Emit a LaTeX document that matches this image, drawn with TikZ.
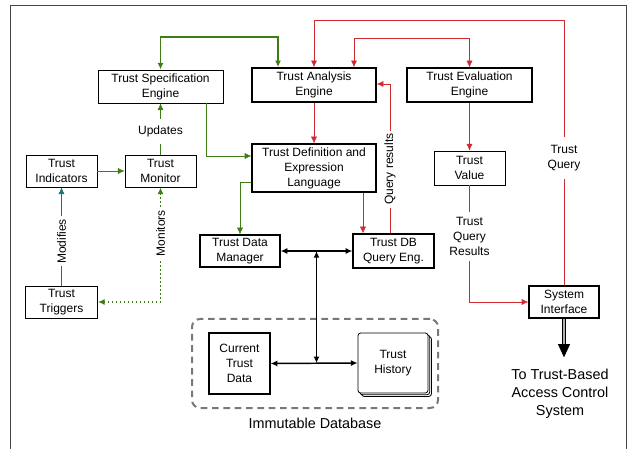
\documentclass[tikz,border=0pt]{standalone}
\usepackage{fontspec}
\setmainfont{Liberation Sans}
\usetikzlibrary{arrows.meta,shadows,calc}
\definecolor{grn}{RGB}{62,125,22}
\definecolor{rd}{RGB}{208,42,48}
\definecolor{tl}{RGB}{20,118,120}
\definecolor{dbg}{RGB}{120,120,120}
\definecolor{frm}{RGB}{70,70,70}
\tikzset{
  bx/.style={draw, line width=0.6, align=center, inner sep=0.75pt, font=\fontsize{9}{11.25}\selectfont},
  lbl/.style={fill=white, text=black, align=center, inner sep=2pt, font=\fontsize{9}{11.25}\selectfont},
  big/.style={align=center, inner sep=0.75pt, font=\fontsize{10.8}{13.5}\selectfont},
  >={Latex[length=5pt,width=4.5pt]}
}
\begin{document}
\begin{tikzpicture}[x=0.75pt,y=0.75pt,yscale=-1,xscale=1]
\useasboundingbox (0,0) rectangle (629,449);

%Straight Lines [frame]
\draw [color=frm, line width=0.75] (10,449) -- (10,6) -- (626,6) -- (626,449);

%Shape: Rounded Rect [database]
\node [draw=dbg, dash pattern=on 5pt off 3.5pt, line width=1.5, rounded corners=6pt, minimum width=184.5pt, minimum height=66.75pt] (db) at (315,363.5) {};

%Shape: Rectangle
\node [bx, minimum width=93.75pt, minimum height=24.75pt] (spec) at (160.5,86.5) {Trust Specification\\Engine};
\node [bx, line width=1.2, minimum width=93pt, minimum height=25.5pt] (ana) at (314,85) {Trust Analysis\\Engine};
\node [bx, line width=0.9, minimum width=93.75pt, minimum height=25.5pt] (eval) at (469.5,85) {Trust Evaluation\\Engine};
\node [bx, minimum width=53.25pt, minimum height=24pt] (ind) at (61.5,171) {Trust\\Indicators};
\node [bx, minimum width=53.25pt, minimum height=24pt] (mon) at (160.5,171) {Trust\\Monitor};
\node [bx, line width=0.9, minimum width=93pt, minimum height=36pt] (def) at (314,168) {Trust Definition and\\Expression\\Language};
\node [bx, minimum width=53.25pt, minimum height=25.5pt] (val) at (469.5,168) {Trust\\Value};
\node [bx, line width=0.9, minimum width=60pt, minimum height=24pt] (tdm) at (240,251) {Trust Data\\Manager};
\node [bx, line width=0.9, minimum width=60.75pt, minimum height=25.5pt] (dbq) at (393.5,251) {Trust DB\\Query Eng.};
\node [bx, minimum width=54pt, minimum height=24pt] (trg) at (61.5,302) {Trust\\Triggers};
\node [bx, line width=0.9, minimum width=52.5pt, minimum height=24pt] (sys) at (564,302) {System\\Interface};
\node [bx, line width=0.9, minimum width=45.75pt, minimum height=45.75pt] (cur) at (239.5,363.5) {Current\\Trust\\Data};
\node [bx, fill=white, rounded corners=2pt, double copy shadow={shadow xshift=1.3pt, shadow yshift=-1.3pt}, minimum width=52.5pt, minimum height=45pt] (hist) at (393,363) {Trust\\History};

% Text Node
\node [big] (imm) at (315,423) {Immutable Database};
% Text Node
\node [big] (acs) at (560,394) {To Trust-Based\\Access Control\\System};

%Straight Lines [green]
\coordinate (gtop) at (278,37);
\draw [grn, line width=1.4, <->] (spec.north) |- (gtop) -- (gtop |- ana.north);
\draw [grn, ->] ([xshift=34.5pt]spec.south) |- ([yshift=-9pt]def.west);
\draw [grn, ->] ([yshift=10.5pt]def.west) -| (tdm.north);
\draw [grn, ->] (mon.north) -- node [lbl, pos=0.45, inner ysep=5pt] {Updates} (spec.south);
\draw [grn, ->] (ind.east) -- (mon.west);
\draw [grn, dotted, line width=1, <->] (mon.south) |- node [lbl, pos=0.2, rotate=90] {Monitors} (trg.east);
%Straight Lines [teal]
\draw [tl, ->] (trg.north) -- node [lbl, pos=0.45, rotate=90] {Modifies} (ind.south);

%Straight Lines [red]
\coordinate (rtop) at (564,20);
\draw [rd, ->] (sys.north) -- node [lbl, pos=0.48, inner ysep=6pt] {Trust\\Query} (rtop) -| (ana.north);
\coordinate (ra) at (354,38);
\coordinate (rb) at (469.5,38);
\draw [rd, <->] (ra |- ana.north) -- (ra) -- (rb) -- (eval.north);
\draw [rd, ->] (ana.south) -- (def.north);
\coordinate (qr) at (390,84);
\draw [rd, ->] (qr |- dbq.north) -- node [lbl, pos=0.43, rotate=90] {Query results} (qr) -- (ana.east |- qr);
\coordinate (dq) at (363,0);
\draw [rd, ->] (dq |- def.south) -- (dq |- dbq.north);
\draw [rd, ->] (eval.south) -- (val.north);
\draw [rd, ->] (val.south) |- node [lbl, pos=0.22, inner ysep=4pt] {Trust\\Query\\Results} (sys.west);

%Straight Lines [black]
\draw [line width=1.1, <->] (tdm.east) -- (dbq.west);
\coordinate (bt) at ($(tdm.east)!0.5!(dbq.west)$);
\coordinate (bb) at ($(cur.east)!0.5!(hist.west)$);
\draw [line width=1.1, <->] (bt) -- (bt |- bb);
\draw [line width=1.1, <->] (cur.east) -- (hist.west);
\coordinate (outp) at ([yshift=-8pt]acs.north);
\draw [line width=0.8, double=gray!60, double distance=1.4pt, -{Triangle[length=10pt,width=9pt]}] (sys.south) -- (sys.south |- outp);

\end{tikzpicture}
\end{document}
